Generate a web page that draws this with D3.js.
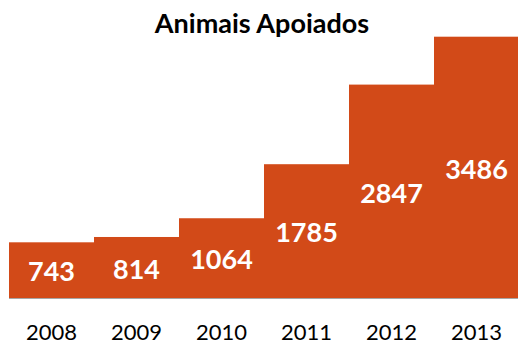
<!DOCTYPE html>
<html>
<head>
<meta charset="utf-8">
<script src="https://cdn.jsdelivr.net/npm/d3@7"></script>
<style>
  body { margin: 0; background: #fff; }
  svg text { font-family: Lato, "Open Sans", sans-serif; }
</style>
</head>
<body>
<div id="chart"></div>
<script>
var years = ["2008", "2009", "2010", "2011", "2012", "2013"];
var animais = [743, 814, 1064, 1785, 2847, 3486];

var width = 518, height = 343;
var margin = { top: 36.7, right: -1, bottom: 45, left: 9 };

var svg = d3.select("#chart").append("svg")
    .attr("width", width)
    .attr("height", height);

var x = d3.scaleBand()
    .domain(years)
    .range([margin.left, width - margin.right])
    .padding(0);

var y = d3.scaleLinear()
    .domain([0, d3.max(animais)])
    .range([height - margin.bottom, margin.top]);

// Title
svg.append("text")
    .attr("x", 262)
    .attr("y", 33)
    .attr("text-anchor", "middle")
    .style("font-size", "27px")
    .style("font-weight", "bold")
    .style("fill", "#000")
    .text("Animais Apoiados");

var data = years.map(function (d, i) { return { year: d, value: animais[i] }; });

// Bars
svg.append("g").selectAll("rect")
    .data(data)
    .join("rect")
    .attr("x", function (d) { return x(d.year); })
    .attr("y", function (d) { return y(d.value); })
    .attr("width", x.bandwidth() + 0.5)
    .attr("height", function (d) { return y(0) - y(d.value); })
    .style("fill", "#D24A18");

// Axis line
svg.append("line")
    .attr("x1", margin.left)
    .attr("x2", width)
    .attr("y1", y(0) + 0.5)
    .attr("y2", y(0) + 0.5)
    .style("stroke", "#A6A6A6")
    .style("stroke-width", 1);

// Value labels
svg.append("g").selectAll("text")
    .data(data)
    .join("text")
    .attr("x", function (d) { return x(d.year) + x.bandwidth() / 2; })
    .attr("y", function (d) { return (y(d.value) + y(0)) / 2 + 1.5; })
    .attr("dy", "0.36em")
    .attr("text-anchor", "middle")
    .style("font-size", "27px")
    .style("font-weight", "bold")
    .style("fill", "#fff")
    .text(function (d) { return d.value; });

// X axis labels
var xAxis = d3.axisBottom(x).tickSize(0).tickPadding(0);
var gx = svg.append("g")
    .attr("transform", "translate(0," + 339.5 + ")")
    .call(xAxis);
gx.select(".domain").remove();
gx.selectAll("text")
    .attr("dy", 0)
    .attr("y", 0)
    .style("font-family", "Lato, sans-serif")
    .style("font-size", "22px")
    .style("fill", "#000");
</script>
</body>
</html>
